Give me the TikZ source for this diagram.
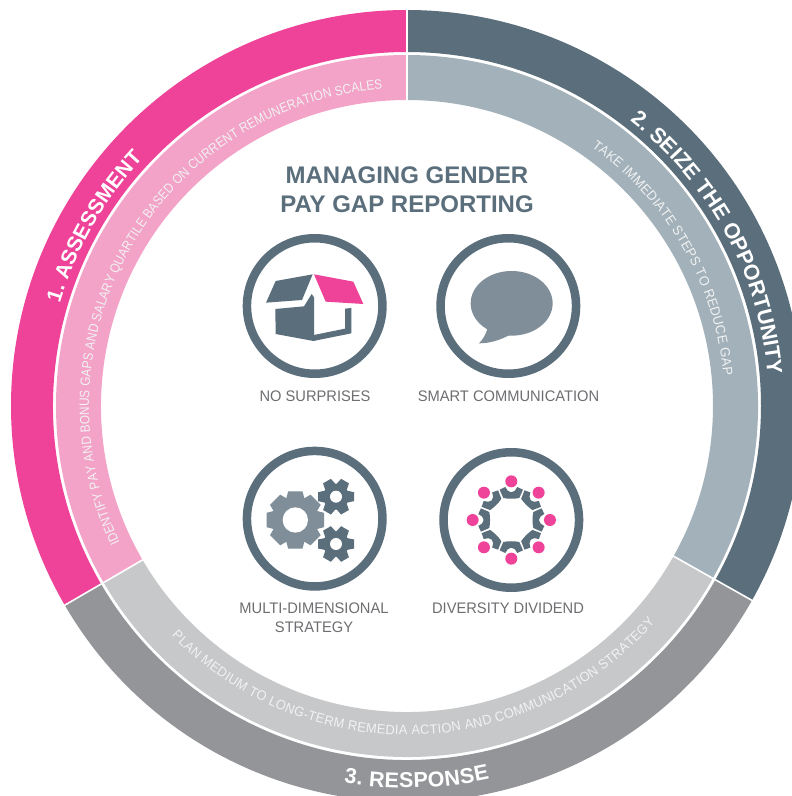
\documentclass[tikz,border=0pt]{standalone}
\usepackage{fontspec}
\setmainfont{Liberation Sans}
\setsansfont{Liberation Sans}
\newfontfamily\narrowsans[FakeStretch=0.875]{Liberation Sans}
\newfontfamily\slimsans[FakeStretch=0.95]{Liberation Sans}
\newfontfamily\capsans[FakeStretch=0.96]{Liberation Sans}
\usetikzlibrary{decorations.text}
\definecolor{cpink}{HTML}{EE4398}
\definecolor{cslate}{HTML}{5A6E7C}
\definecolor{cgray}{HTML}{939598}
\definecolor{lpink}{HTML}{F4A3C8}
\definecolor{lslate}{HTML}{A2B1BA}
\definecolor{lgray}{HTML}{C7C8CA}
\definecolor{midslate}{HTML}{7F8E99}
\definecolor{labelgray}{HTML}{6D6E71}
\definecolor{smalltext}{HTML}{F1F2F2}
\tikzset{
  iconring/.style={draw=cslate,line width=8.5pt,fill=white,circle,minimum size=135.5pt,inner sep=0pt},
  caption/.style={text=labelgray,font=\capsans\fontsize{15.3}{19}\selectfont,align=center,inner sep=0pt},
  heading/.style={text=cslate,font=\bfseries\fontsize{24}{29}\selectfont,align=center,inner sep=0pt},
  seam/.style={draw=white,line width=1.6pt},
}
\newcommand{\annsector}[3]{% colour, start, end; R, r
  \fill[#1] (#2:\ringR) arc[start angle=#2,end angle=#3,radius=\ringR] -- (#3:\ringr) arc[start angle=#3,end angle=#2,radius=\ringr] -- cycle;}
\newcommand{\arctext}[6]{% radius, start, end, font, colour, text
  \path[decorate,decoration={text along path,text align={fit to path},
    text={|#4\color{#5}|#6}}] (#2:#1) arc[start angle=#2,end angle=#3,radius=#1];}
\newcommand{\gearicon}[7]{% x,y,teeth,Rout,Rroot,hole,colour
  \begin{scope}[shift={(#1,#2)}]
    \fill[#7] (0,0) circle[radius=#5];
    \pgfmathsetmacro{\tw}{#4*0.25}
    \pgfmathsetmacro{\tb}{#4*0.33}
    \pgfmathsetmacro{\tstep}{360/#3}
    \foreach \k in {1,...,#3}{
      \fill[#7,rotate=\k*\tstep] (#5-6,-\tb) -- (#4,-\tw) -- (#4,\tw) -- (#5-6,\tb) -- cycle;
    }
    \fill[white] (0,0) circle[radius=#6];
  \end{scope}}
\begin{document}
\begin{tikzpicture}[x=1pt,y=1pt]
\useasboundingbox (0,0) rectangle (792,796);
\clip (0,0) rectangle (792,796);
\fill[white] (0,0) rectangle (792,796);
\begin{scope}[shift={(407,390)}]
  \def\ringR{396}\def\ringr{354}
  \annsector{cpink}{90}{210.2}
  \annsector{cslate}{-29.4}{90}
  \annsector{cgray}{210.2}{330.6}
  \def\ringR{351}\def\ringr{306}
  \annsector{lpink}{90}{210.2}
  \annsector{lslate}{-29.4}{90}
  \annsector{lgray}{210.2}{330.6}
  \draw[seam] (90:300) -- (90:400);
  \draw[seam] (210.2:300) -- (210.2:400);
  \draw[seam] (330.6:300) -- (330.6:400);
  \arctext{362}{163.5}{136.8}{\bfseries\fontsize{21}{21}\selectfont}{white}{1. ASSESSMENT}
  \arctext{362}{52}{5}{\bfseries\fontsize{21.5}{21.5}\selectfont}{white}{2. SEIZE THE OPPORTUNITY}
  \arctext{382}{260.5}{282.5}{\bfseries\fontsize{21.5}{21.5}\selectfont}{white}{3. RESPONSE}
  \arctext{318}{205.5}{94.5}{\narrowsans\fontsize{13.5}{13.5}\selectfont}{smalltext}{IDENTIFY PAY AND BONUS GAPS AND SALARY QUARTILE BASED ON CURRENT REMUNERATION SCALES}
  \arctext{318}{54.5}{5.5}{\slimsans\fontsize{13.5}{13.5}\selectfont}{smalltext}{TAKE IMMEDIATE STEPS TO REDUCE GAP}
  \arctext{329}{224.3}{318.9}{\slimsans\fontsize{13.5}{13.5}\selectfont}{smalltext}{PLAN MEDIUM TO LONG-TERM REMEDIA ACTION AND COMMUNICATION STRATEGY}
\end{scope}

\node[heading] (title) at (407,606.5) {MANAGING GENDER\\PAY GAP REPORTING};

\node[iconring] (ring1) at (314.7,490) {};
\node[iconring] (ring2) at (508.3,490) {};
\node[iconring] (ring3) at (314.7,277.3) {};
\node[iconring] (ring4) at (511.3,276) {};

\node[caption] (cap1) at (315,400) {NO SURPRISES};
\node[caption] (cap2) at (508.5,400) {SMART COMMUNICATION};
\node[caption] (cap3) at (314,178.5) {MULTI-DIMENSIONAL\\STRATEGY};
\node[caption] (cap4) at (508,188) {DIVERSITY DIVIDEND};

% box icon
\begin{scope}[shift={(230,576)},x=0.33333pt,y=-0.33333pt]
  \fill[cslate] (137,183) -- (248,163) -- (216,240) -- (108,248) -- cycle;
  \fill[cpink] (252,163) -- (370,185) -- (400,252) -- (287,245) -- cycle;
  \fill[cslate] (136,267) -- (222,259) -- (245,222) -- (252,232) -- (252,345) -- (345,326) -- (345,266) -- (364,264) -- (364,340) -- (250,363) -- (137,342) -- cycle;
\end{scope}

% speech bubble
\begin{scope}[shift={(425,576)},x=0.33333pt,y=-0.33333pt]
  \fill[midslate] (260,250) ellipse[x radius=123,y radius=97];
  \fill[midslate] (187,327) .. controls (182,345) and (172,360) .. (162,370) .. controls (195,370) and (225,360) .. (252,346) -- (220,300) -- cycle;
\end{scope}

% gears
\begin{scope}[shift={(230,356)},x=0.33333pt,y=-0.33333pt]
  \gearicon{196}{240}{8}{86}{66}{38}{midslate}
  \gearicon{318}{170}{6}{54}{39}{18}{cslate}
  \gearicon{318}{312}{6}{54}{39}{18}{cslate}
\end{scope}

% people circle
\begin{scope}[shift={(511.3,276)},x=0.33333pt,y=0.33333pt]
  \foreach \a in {0,45,...,315}{
    \fill[cpink] (\a:116) circle[radius=18];
    \fill[cslate,rotate=\a-90] (-24,66) -- (-35,91) -- (-18,99) .. controls (-14,90) and (-8,83) .. (0,83) .. controls (8,83) and (14,90) .. (18,99) -- (35,91) -- (24,66) .. controls (10,63) and (-10,63) .. (-24,66) -- cycle;
  }
\end{scope}
\end{tikzpicture}
\end{document}
